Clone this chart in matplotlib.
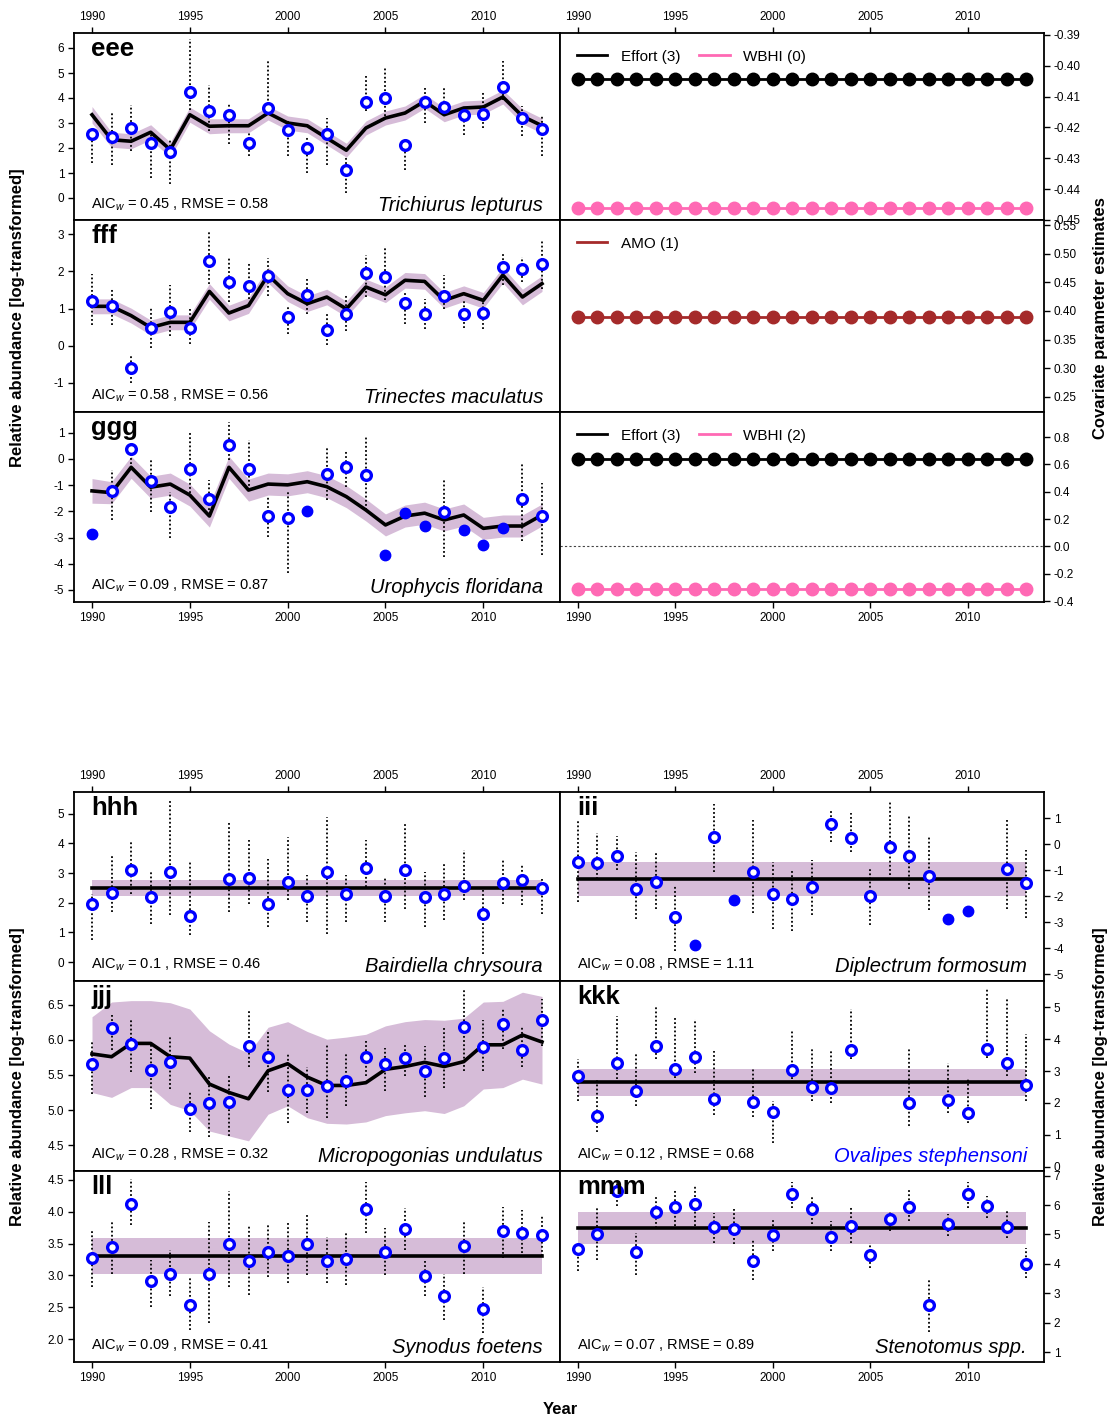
import numpy as np
import matplotlib
matplotlib.use('Agg')
import matplotlib.pyplot as plt
from matplotlib.lines import Line2D

plt.rcParams['font.family'] = ['Liberation Sans', 'DejaVu Sans']
plt.rcParams['mathtext.fontset'] = 'custom'
plt.rcParams['mathtext.rm'] = 'Liberation Sans'
plt.rcParams['mathtext.it'] = 'Liberation Sans:italic'

nan = np.nan
years = list(range(1990, 2014))
xticks = [1990, 1995, 2000, 2005, 2010]

# ---- species panels: observed, dotted bar ends, fitted line and band ----
eee_obs = [2.57, 2.43, 2.81, 2.20, 1.84, 4.23, 3.47, 3.31, 2.20, 3.60, 2.73, 2.00, 2.57, 1.13, 3.85, 4.00, 2.11, 3.83, 3.64, 3.33, 3.37, 4.43, 3.19, 2.76]
eee_hi = [2.6, 3.4, 3.73, 2.67, 2.33, 6.36, 4.53, 3.8, 2.6, 5.49, 3.13, 2.47, 3.2, 1.67, 4.89, 5.2, 2.33, 4.4, 4.4, 3.67, 4.27, 5.47, 3.67, 3.27]
eee_lo = [1.4, 1.33, 1.87, 0.8, 0.57, 3.53, 2.67, 2.17, 1.67, 3.4, 1.67, 1.0, 1.33, 0.2, 3.47, 3.27, 1.13, 3.0, 3.33, 2.53, 2.8, 3.93, 2.47, 1.67]
eee_fit = [3.33, 2.33, 2.27, 2.63, 1.93, 3.33, 2.87, 2.89, 2.89, 3.4, 3.0, 2.89, 2.4, 1.91, 2.8, 3.2, 3.4, 3.87, 3.33, 3.6, 3.64, 4.04, 3.27, 2.89]
eee_se = [0.33, 0.3, 0.3, 0.3, 0.3, 0.3, 0.3, 0.28, 0.28, 0.28, 0.28, 0.28, 0.28, 0.28, 0.28, 0.28, 0.28, 0.28, 0.28, 0.28, 0.28, 0.28, 0.3, 0.3]

fff_obs = [1.19, 1.06, -0.59, 0.48, 0.92, 0.48, 2.29, 1.72, 1.60, 1.87, 0.76, 1.37, 0.43, 0.86, 1.96, 1.85, 1.15, 0.86, 1.35, 0.86, 0.88, 2.12, 2.06, 2.19]
fff_hi = [1.94, 1.52, -0.23, 1.04, 1.62, 1.0, 3.07, 2.37, 2.26, 2.35, 1.04, 1.8, 0.86, 1.37, 2.44, 2.67, 1.44, 1.26, 1.9, 1.26, 1.22, 2.53, 2.39, 2.85]
fff_lo = [0.56, 0.56, -1.0, -0.05, 0.27, 0.04, 1.67, 1.17, 1.26, 1.35, 0.31, 0.86, 0.01, 0.4, 1.31, 1.22, 0.58, 0.45, 0.99, 0.47, 0.45, 1.62, 1.71, 1.53]
fff_fit = [1.06, 1.06, 0.81, 0.49, 0.63, 0.63, 1.46, 0.88, 1.08, 1.9, 1.4, 1.13, 1.31, 0.99, 1.58, 1.37, 1.76, 1.73, 1.22, 1.4, 1.22, 1.9, 1.31, 1.67]
fff_se = [0.2, 0.2, 0.2, 0.2, 0.2, 0.2, 0.21, 0.21, 0.21, 0.21, 0.21, 0.21, 0.21, 0.21, 0.21, 0.21, 0.21, 0.21, 0.21, 0.21, 0.21, 0.21, 0.21, 0.21]

ggg_obs = [-2.88, -1.21, 0.39, -0.86, -1.82, -0.37, -1.52, 0.54, -0.37, -2.16, -2.27, -1.97, -0.59, -0.31, -0.61, -3.66, -2.05, -2.56, -2.01, -2.71, -3.29, -2.63, -1.54, -2.18]
ggg_hi = [nan, -0.42, 0.6, -0.02, -1.25, 0.97, -0.8, 1.42, 0.72, -1.41, -1.19, nan, 0.4, 0.34, 0.85, nan, nan, nan, -0.78, nan, nan, nan, -0.17, -0.91]
ggg_lo = [nan, -2.33, -0.2, -2.01, -3.03, -1.31, -1.95, -0.04, -1.19, -2.99, -4.36, nan, -1.57, -1.06, -1.95, nan, nan, nan, -3.73, nan, nan, nan, -3.15, -3.66]
ggg_fit = [-1.22, -1.29, -0.32, -1.08, -0.96, -1.38, -2.18, -0.32, -1.19, -0.96, -0.99, -0.87, -1.06, -1.44, -1.95, -2.52, -2.18, -2.07, -2.33, -2.14, -2.65, -2.56, -2.56, -2.14]
ggg_se = [0.47, 0.42, 0.42, 0.42, 0.42, 0.42, 0.42, 0.42, 0.42, 0.42, 0.42, 0.42, 0.42, 0.42, 0.42, 0.42, 0.42, 0.42, 0.42, 0.42, 0.42, 0.42, 0.42, 0.42]

hhh_obs = [1.94, 2.33, 3.09, 2.19, 3.03, 1.54, nan, 2.81, 2.84, 1.94, 2.70, 2.24, 3.04, 2.30, 3.17, 2.22, 3.09, 2.20, 2.28, 2.56, 1.63, 2.67, 2.78, 2.48]
hhh_hi = [2.3, 3.65, 4.04, 3.03, 5.51, 3.37, nan, 4.72, 4.1, 3.46, 4.21, 2.92, 4.89, 2.92, 4.1, 2.87, 4.66, 3.03, 3.31, 3.76, 2.42, 3.48, 3.31, 2.81]
hhh_lo = [0.73, 1.69, 2.3, 1.29, 1.57, 0.9, nan, 1.69, 1.97, 1.18, 2.08, 1.35, 0.96, 1.35, 2.53, 1.35, 1.8, 1.18, 1.4, 2.08, 0.28, 1.97, 1.91, 1.63]
hhh_level = (2.21, 2.48, 2.75)

iii_obs = [-0.66, -0.71, -0.43, -1.71, -1.43, -2.79, -3.88, 0.29, -2.14, -1.05, -1.91, -2.12, -1.65, 0.78, 0.24, -2.0, -0.11, -0.45, -1.2, -2.86, -2.55, nan, -0.94, -1.49]
iii_hi = [0.97, 0.46, 0.33, -0.28, -0.33, -1.56, nan, 1.54, nan, 0.94, -0.66, -0.97, -0.59, 1.38, 1.22, -0.94, 1.67, 1.1, 0.31, nan, nan, nan, 0.94, -0.2]
iii_lo = [-2.2, -1.33, -1.0, -2.86, -2.5, -4.1, nan, -1.05, nan, -2.63, -3.24, -3.34, -2.73, 0.1, -0.31, -3.11, -1.17, -1.71, -2.54, nan, nan, nan, -2.47, -2.83]
iii_level = (-2.0, -1.35, -0.67)

jjj_obs = [5.66, 6.17, 5.94, 5.57, 5.69, 5.01, 5.10, 5.11, 5.91, 5.76, 5.29, 5.28, 5.34, 5.42, 5.76, 5.66, 5.74, 5.56, 5.74, 6.19, 5.90, 6.22, 5.86, 6.28]
jjj_hi = [5.99, 6.35, 6.3, 5.94, 6.04, 5.27, 5.49, 5.51, 6.42, 6.13, 5.8, 5.61, 5.94, 5.8, 5.99, 5.89, 5.94, 5.92, 6.2, 6.71, 6.28, 6.44, 6.18, 6.59]
jjj_lo = [5.23, 5.85, 5.54, 5.01, 5.3, 4.68, 4.61, 4.63, 5.61, 5.25, 4.82, 4.96, 4.89, 5.06, 5.49, 5.27, 5.49, 5.18, 5.32, 5.56, 5.56, 5.87, 5.61, 5.92]
jjj_fit = [5.80, 5.76, 5.95, 5.95, 5.76, 5.74, 5.37, 5.25, 5.16, 5.56, 5.66, 5.47, 5.35, 5.35, 5.39, 5.58, 5.62, 5.68, 5.62, 5.69, 5.93, 5.93, 6.07, 5.97]
jjj_band_hi = [6.33, 6.54, 6.56, 6.56, 6.53, 6.44, 6.13, 5.94, 5.81, 6.18, 6.26, 6.12, 6.01, 6.04, 6.08, 6.2, 6.26, 6.29, 6.28, 6.31, 6.54, 6.55, 6.68, 6.62]
jjj_band_lo = [5.25, 5.18, 5.32, 5.32, 5.08, 4.99, 4.7, 4.63, 4.56, 4.94, 5.06, 4.89, 4.81, 4.8, 4.83, 4.92, 4.96, 4.99, 4.95, 5.06, 5.3, 5.32, 5.44, 5.37]

kkk_obs = [2.84, 1.6, 3.26, 2.37, 3.79, 3.05, 3.44, 2.13, nan, 2.02, 1.72, 3.02, 2.51, 2.46, 3.66, nan, nan, 2.0, nan, 2.08, 1.68, 3.68, 3.26, 2.55]
kkk_hi = [3.37, 2.74, 4.74, 3.53, 5.0, 4.74, 4.63, 3.63, nan, 3.05, 2.05, 4.26, 3.68, 3.63, 4.95, nan, nan, 3.74, nan, 3.26, 2.79, 5.58, 5.26, 4.16]
kkk_lo = [2.05, 1.1, 2.74, 1.89, 3.37, 2.79, 2.95, 1.63, nan, 1.56, 0.74, 2.74, 2.05, 2.0, 3.37, nan, nan, 1.26, nan, 1.68, 1.37, 3.42, 2.84, 2.05]
kkk_level = (2.23, 2.65, 3.07)

lll_obs = [3.28, 3.44, 4.12, 2.91, 3.03, 2.53, 3.02, 3.49, 3.22, 3.36, 3.31, 3.50, 3.23, 3.26, 4.04, 3.36, 3.73, 2.99, 2.68, 3.46, 2.47, 3.69, 3.67, 3.63]
lll_hi = [3.71, 3.85, 4.52, 3.24, 3.4, 2.96, 3.84, 4.32, 3.77, 3.79, 3.85, 3.98, 3.61, 3.66, 4.47, 3.74, 4.06, 3.22, 3.03, 3.87, 2.82, 4.08, 4.03, 3.95]
lll_lo = [2.82, 3.03, 3.79, 2.51, 2.67, 2.14, 2.25, 2.82, 2.69, 2.98, 2.88, 3.01, 2.88, 2.85, 3.66, 3.01, 3.4, 2.67, 2.3, 3.03, 2.09, 3.27, 3.35, 3.31]
lll_level = (3.03, 3.31, 3.59)

mmm_obs = [4.49, 5.0, 6.49, 4.41, 5.78, 5.94, 6.03, 5.25, 5.17, 4.09, 4.98, 6.37, 5.85, 4.9, 5.29, 4.29, 5.54, 5.94, 2.6, 5.37, 6.37, 5.97, 5.25, 4.01]
mmm_hi = [4.6, 5.91, 6.77, 5.06, 6.26, 6.54, 6.66, 5.74, 5.86, 4.83, 5.51, 6.77, 6.26, 5.46, 5.97, 4.71, 5.8, 6.54, 3.46, 5.69, 6.77, 6.31, 5.8, 4.54]
mmm_lo = [3.74, 4.14, 5.97, 3.63, 5.23, 5.29, 5.29, 4.71, 4.66, 3.46, 4.43, 5.91, 5.34, 4.43, 4.71, 3.86, 5.11, 5.46, 1.69, 4.94, 5.91, 5.57, 4.89, 3.51]
mmm_level = (4.68, 5.23, 5.77)

# ---- covariate estimates ----
eee_effort = [-0.4042] * len(years)
eee_wbhi = [-0.4461] * len(years)
fff_amo = [0.389] * len(years)
ggg_effort = [0.639] * len(years)
ggg_wbhi = [-0.312] * len(years)

BAND = '#d6bcd8'
W, H = 1115, 1422
fig = plt.figure(figsize=(W / 100, H / 100), dpi=100)


def add_ax(x0, y0, x1, y1):
    return fig.add_axes([x0 / W, 1 - y1 / H, (x1 - x0) / W, (y1 - y0) / H])


def style_ax(ax, ylim, yticks, yfmt, side, xpos):
    ax.set_xlim(1989.08, 2013.92)
    ax.set_ylim(*ylim)
    ax.set_xticks(xticks)
    ax.set_yticks(yticks)
    ax.set_yticklabels([yfmt % v for v in yticks])
    for s in ax.spines.values():
        s.set_linewidth(1.3)
    ax.tick_params(direction='out', length=4, width=1, labelsize=8.5, pad=3)
    ax.tick_params(axis='y', left=(side == 'left'), labelleft=(side == 'left'),
                   right=(side == 'right'), labelright=(side == 'right'))
    ax.tick_params(axis='x', top=(xpos == 'top'), labeltop=(xpos == 'top'),
                   bottom=True, labelbottom=(xpos == 'bottom'))


def species(ax, obs, lo, hi, fit, flo, fhi, tag, aic, rmse, name, name_color='black'):
    ax.fill_between(years, flo, fhi, color=BAND, lw=0, zorder=1)
    ax.vlines(years, lo, hi, colors='black', linestyles=(0, (1, 1.3)), lw=1.3, zorder=2)
    ax.plot(years, fit, color='black', lw=2.6, zorder=3)
    obs = np.array(obs, float)
    bars = ~np.isnan(np.array(lo, float))
    yr = np.array(years)
    ax.plot(yr[bars], obs[bars], 'o', ms=7, mfc='white', mec='blue', mew=2.4, zorder=4)
    ax.plot(yr[~bars], obs[~bars], 'o', ms=7.5, mfc='blue', mec='blue', zorder=4)
    ax.text(0.035, 0.98, tag, transform=ax.transAxes, va='top', ha='left',
            fontsize=18.5, fontweight='bold', zorder=5)
    ax.text(0.035, 0.04, r'AIC$_{w}$ = %s , RMSE = %s' % (aic, rmse), transform=ax.transAxes,
            va='bottom', ha='left', fontsize=10.5, zorder=5)
    ax.text(0.965, 0.025, name, transform=ax.transAxes, va='bottom', ha='right',
            fontsize=14.5, style='italic', color=name_color, zorder=5)


def level(v):
    return [v] * len(years)


def band(fit, se, sign):
    return [f + sign * s for f, s in zip(fit, se)]


LX0, MX, RX1 = 74, 560, 1044

# ---------------- top block ----------------
ax = add_ax(LX0, 33, MX, 220)
species(ax, eee_obs, eee_lo, eee_hi, eee_fit, band(eee_fit, eee_se, -1), band(eee_fit, eee_se, 1),
        'eee', '0.45', '0.58', 'Trichiurus lepturus')
style_ax(ax, (-0.88, 6.6), range(0, 7), '%d', 'left', 'top')

ax = add_ax(LX0, 220, MX, 412)
species(ax, fff_obs, fff_lo, fff_hi, fff_fit, band(fff_fit, fff_se, -1), band(fff_fit, fff_se, 1),
        'fff', '0.58', '0.56', 'Trinectes maculatus')
style_ax(ax, (-1.78, 3.38), range(-1, 4), '%d', 'left', 'mid')

ax = add_ax(LX0, 412, MX, 602)
species(ax, ggg_obs, ggg_lo, ggg_hi, ggg_fit, band(ggg_fit, ggg_se, -1), band(ggg_fit, ggg_se, 1),
        'ggg', '0.09', '0.87', 'Urophycis floridana')
style_ax(ax, (-5.46, 1.79), range(-5, 2), '%d', 'left', 'bottom')

PINK = '#ff69b4'
AMO = '#a52a2a'


def cov(ax, series, labels, colors):
    for s, c in zip(series, colors):
        ax.plot(years, s, '-o', color=c, lw=2, ms=9, zorder=3)
    handles = [Line2D([0], [0], color=c, lw=2) for c in colors]
    ax.legend(handles, labels, loc='upper left', ncol=2, frameon=False, fontsize=11,
              handlelength=2.0, columnspacing=1.2, borderaxespad=0.7, handletextpad=0.9)


ax = add_ax(MX, 33, RX1, 220)
cov(ax, [eee_effort, eee_wbhi], ['Effort (3)', 'WBHI (0)'], ['black', PINK])
style_ax(ax, (-0.4497, -0.3894), [-0.39, -0.40, -0.41, -0.42, -0.43, -0.44, -0.45], '%.2f', 'right', 'top')

ax = add_ax(MX, 220, RX1, 412)
cov(ax, [fff_amo], ['AMO (1)'], [AMO])
style_ax(ax, (0.2235, 0.5588), [0.25, 0.30, 0.35, 0.40, 0.45, 0.50, 0.55], '%.2f', 'right', 'mid')

ax = add_ax(MX, 412, RX1, 602)
ax.axhline(0, color='#444444', lw=0.8, ls=(0, (2, 2)), zorder=1)
cov(ax, [ggg_effort, ggg_wbhi], ['Effort (3)', 'WBHI (2)'], ['black', PINK])
style_ax(ax, (-0.407, 0.983), [-0.4, -0.2, 0.0, 0.2, 0.4, 0.6, 0.8], '%.1f', 'right', 'bottom')

# ---------------- bottom block ----------------
ax = add_ax(LX0, 792, MX, 981)
species(ax, hhh_obs, hhh_lo, hhh_hi, level(hhh_level[1]), level(hhh_level[0]), level(hhh_level[2]),
        'hhh', '0.1', '0.46', 'Bairdiella chrysoura')
style_ax(ax, (-0.64, 5.73), range(0, 6), '%d', 'left', 'top')

ax = add_ax(MX, 792, RX1, 981)
species(ax, iii_obs, iii_lo, iii_hi, level(iii_level[1]), level(iii_level[0]), level(iii_level[2]),
        'iii', '0.08', '1.11', 'Diplectrum formosum')
style_ax(ax, (-5.26, 2.02), range(-5, 2), '%d', 'right', 'top')

ax = add_ax(LX0, 981, MX, 1171)
species(ax, jjj_obs, jjj_lo, jjj_hi, jjj_fit, jjj_band_lo, jjj_band_hi,
        'jjj', '0.28', '0.32', 'Micropogonias undulatus')
style_ax(ax, (4.13, 6.84), [4.5, 5.0, 5.5, 6.0, 6.5], '%.1f', 'left', 'mid')

ax = add_ax(MX, 981, RX1, 1171)
species(ax, kkk_obs, kkk_lo, kkk_hi, level(kkk_level[1]), level(kkk_level[0]), level(kkk_level[2]),
        'kkk', '0.12', '0.68', 'Ovalipes stephensoni', name_color='blue')
style_ax(ax, (-0.14, 5.83), range(0, 6), '%d', 'right', 'mid')

ax = add_ax(LX0, 1171, MX, 1362)
species(ax, lll_obs, lll_lo, lll_hi, level(lll_level[1]), level(lll_level[0]), level(lll_level[2]),
        'lll', '0.09', '0.41', 'Synodus foetens')
style_ax(ax, (1.64, 4.64), [2.0, 2.5, 3.0, 3.5, 4.0, 4.5], '%.1f', 'left', 'bottom')

ax = add_ax(MX, 1171, RX1, 1362)
species(ax, mmm_obs, mmm_lo, mmm_hi, level(mmm_level[1]), level(mmm_level[0]), level(mmm_level[2]),
        'mmm', '0.07', '0.89', 'Stenotomus spp.')
style_ax(ax, (0.66, 7.16), range(1, 8), '%d', 'right', 'bottom')

# ---------------- outer labels ----------------
lab = dict(fontsize=12, fontweight='bold', rotation=90, va='center', ha='center')
fig.text(18 / W, 1 - 318 / H, 'Relative abundance [log-transformed]', **lab)
fig.text(18 / W, 1 - 1077 / H, 'Relative abundance [log-transformed]', **lab)
fig.text(1101 / W, 1 - 318 / H, 'Covariate parameter estimates', **lab)
fig.text(1101 / W, 1 - 1077 / H, 'Relative abundance [log-transformed]', **lab)
fig.text(560 / W, 1 - 1410 / H, 'Year', fontsize=12, fontweight='bold', ha='center', va='center')

fig.savefig('out.png', dpi=100)
